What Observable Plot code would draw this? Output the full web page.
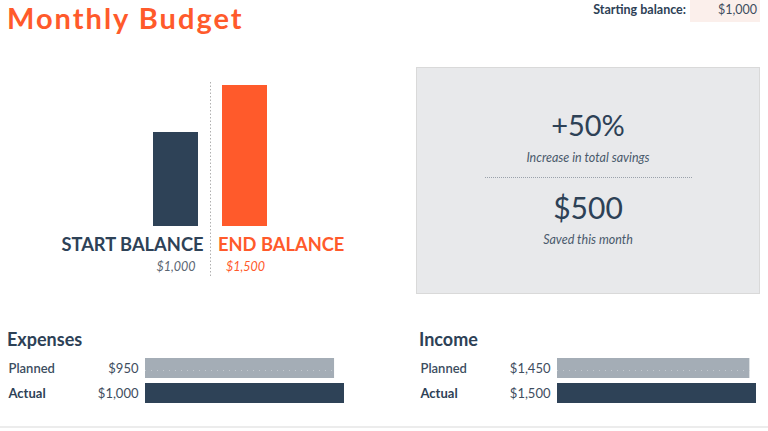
<!DOCTYPE html>
<html>
<head>
<meta charset="utf-8">
<script src="https://cdn.jsdelivr.net/npm/d3@7"></script>
<script src="https://cdn.jsdelivr.net/npm/@observablehq/plot@0.6"></script>
<style>
  html, body { margin: 0; padding: 0; background: #fff; }
  #root { position: relative; width: 768px; height: 431px; overflow: hidden; font-family: Lato, "Open Sans", sans-serif; color: #2d4156; }
  .abs { position: absolute; }
  #title { left: 7px; top: 0px; font-size: 29px; line-height: normal; font-weight: 700; color: #ff5a2b; letter-spacing: 2px; white-space: nowrap; }
  #startLabel { left: 560px; top: 2px; width: 126px; text-align: right; font-size: 12.5px; font-weight: 700; color: #2d4156; }
  #startBox { left: 690px; top: 0px; width: 70px; height: 22px; background: #fbefeb; }
  #startValue { left: 690px; top: 2px; width: 67px; text-align: right; font-size: 12.5px; color: #3e4d5e; }
  #kpi { left: 416px; top: 67px; width: 342px; height: 225px; background: #e8e9eb; border: 1px solid #d9d9d9; }
  .big { position: absolute; left: 0; width: 100%; text-align: center; color: #2d4156; }
  .sub { position: absolute; left: 0; width: 100%; text-align: center; font-style: italic; font-size: 12.5px; color: #4a5a6b; }
  #kpiRule { position: absolute; left: 68px; width: 207px; top: 109px; border-top: 1px dotted #9aa2ab; }
  .section { font-size: 18px; font-weight: 700; color: #2d4156; }
  #bottomLine { left: 0; top: 426px; width: 768px; height: 2px; background: #ececec; }
  svg { overflow: visible; }
</style>
</head>
<body>
<div id="root">
  <div id="title" class="abs">Monthly Budget</div>
  <div id="startBox" class="abs"></div>
  <div id="startLabel" class="abs">Starting balance:</div>
  <div id="startValue" class="abs"></div>

  <div id="balanceChart" class="abs" style="left:40px; top:70px;"></div>

  <div id="kpi" class="abs">
    <div id="pct" class="big" style="top:39px; font-size:29px;"></div>
    <div class="sub" style="top:82px;">Increase in total savings</div>
    <div id="kpiRule"></div>
    <div id="saved" class="big" style="top:121px; font-size:30px;"></div>
    <div class="sub" style="top:164px;">Saved this month</div>
  </div>

  <div class="abs section" style="left:7px; top:328px;">Expenses</div>
  <div id="expenseChart" class="abs" style="left:0px; top:350px;"></div>
  <div class="abs section" style="left:419px; top:328px;">Income</div>
  <div id="incomeChart" class="abs" style="left:412px; top:350px;"></div>

  <div id="bottomLine" class="abs"></div>
</div>
<script>
// ---- data ----
const startingBalance = 1000;
const balanceCategories = ["START BALANCE", "END BALANCE"];
const balanceValues = [1000, 1500];
const budgetRows = ["Planned", "Actual"];
const expenseValues = [950, 1000];
const incomeValues = [1450, 1500];

// ---- styles ----
const NAVY = "#2e4257";
const ORANGE = "#ff5a2b";
const GREY_BAR = "#a4adb6";
const fmt = d3.format("$,.0f");

document.getElementById("startValue").textContent = fmt(startingBalance);
const endBalance = balanceValues[1];
const saved = endBalance - balanceValues[0];
document.getElementById("pct").textContent = "+" + d3.format(".0%")(saved / balanceValues[0]);
document.getElementById("saved").textContent = fmt(saved);

// ---- balance chart ----
const balance = balanceCategories.map((c, i) => ({category: c, value: balanceValues[i], color: i ? ORANGE : NAVY, label: fmt(balanceValues[i]), valueColor: i ? ORANGE : "#5b6673"}));
const balancePlot = Plot.plot({
  width: 330, height: 220,
  marginTop: 12, marginBottom: 13, marginLeft: 0, marginRight: 0,
  style: {fontFamily: "Lato, sans-serif", background: "transparent", overflow: "visible"},
  x: {domain: balanceCategories, range: [113, 227], paddingInner: 0.348, paddingOuter: 0, round: false, axis: null},
  y: {domain: [0, 1500], range: [156, 15], axis: null},
  color: {type: "identity"},
  marks: [
    Plot.ruleX([balanceCategories[1]], {x: d => d, dx: -34.5, stroke: "#b0b0b0", strokeWidth: 1, strokeDasharray: "1.5,2"}),
    Plot.barY(balance, {x: "category", y: "value", fill: "color"}),
    Plot.text(balance.filter((d, i) => i === 0), {x: "category", y: 0, text: "category", fill: "color", textAnchor: "end", lineAnchor: "bottom", dx: 27.5, dy: 24, fontSize: 18.3, fontWeight: 700}),
    Plot.text(balance.filter((d, i) => i === 1), {x: "category", y: 0, text: "category", fill: "color", textAnchor: "start", lineAnchor: "bottom", dx: -27, dy: 24, fontSize: 18.3, fontWeight: 700}),
    Plot.text(balance.filter((d, i) => i === 0), {x: "category", y: 0, text: "label", fill: "valueColor", textAnchor: "end", lineAnchor: "bottom", dx: 19.5, dy: 44, fontSize: 12.5, fontStyle: "italic"}),
    Plot.text(balance.filter((d, i) => i === 1), {x: "category", y: 0, text: "label", fill: "valueColor", textAnchor: "start", lineAnchor: "bottom", dx: -19, dy: 44, fontSize: 12.5, fontStyle: "italic"})
  ]
});
document.getElementById("balanceChart").append(balancePlot);

// ---- budget bars ----
function budgetChart(values, width) {
  const rows = budgetRows.map((r, i) => ({row: r, value: values[i], fill: i ? NAVY : GREY_BAR, label: fmt(values[i])}));
  return Plot.plot({
    width, height: 60,
    marginTop: 8, marginBottom: 7, marginLeft: 8, marginRight: 0,
    style: {fontFamily: "Lato, sans-serif", background: "transparent", overflow: "visible"},
    x: {domain: [0, d3.max(values)], range: [145, 344], axis: null},
    y: {domain: budgetRows, range: [8, 53], paddingInner: 0.2, paddingOuter: 0, round: false, axis: null},
    color: {type: "identity"},
    marks: [
      Plot.barX(rows, {y: "row", x: "value", fill: "fill"}),
      Plot.ruleY(rows.filter((d, i) => i === 0), {y: "row", x1: 0, x2: "value", dy: 2, stroke: "#c3c9cf", strokeDasharray: "1,5"}),
      Plot.text(rows.filter((d, i) => i === 0), {y: "row", text: "row", frameAnchor: "left", textAnchor: "start", fill: "#3c4d60", fontSize: 13, fontWeight: 600}),
      Plot.text(rows.filter((d, i) => i === 1), {y: "row", text: "row", frameAnchor: "left", textAnchor: "start", fill: "#2d4156", fontSize: 13, fontWeight: 700}),
      Plot.text(rows, {y: "row", x: 0, text: "label", textAnchor: "end", dx: -7, fill: "#3e4d5e", fontSize: 13})
    ]
  });
}
document.getElementById("expenseChart").append(budgetChart(expenseValues, 380));
document.getElementById("incomeChart").append(budgetChart(incomeValues, 356));
</script>
</body>
</html>
